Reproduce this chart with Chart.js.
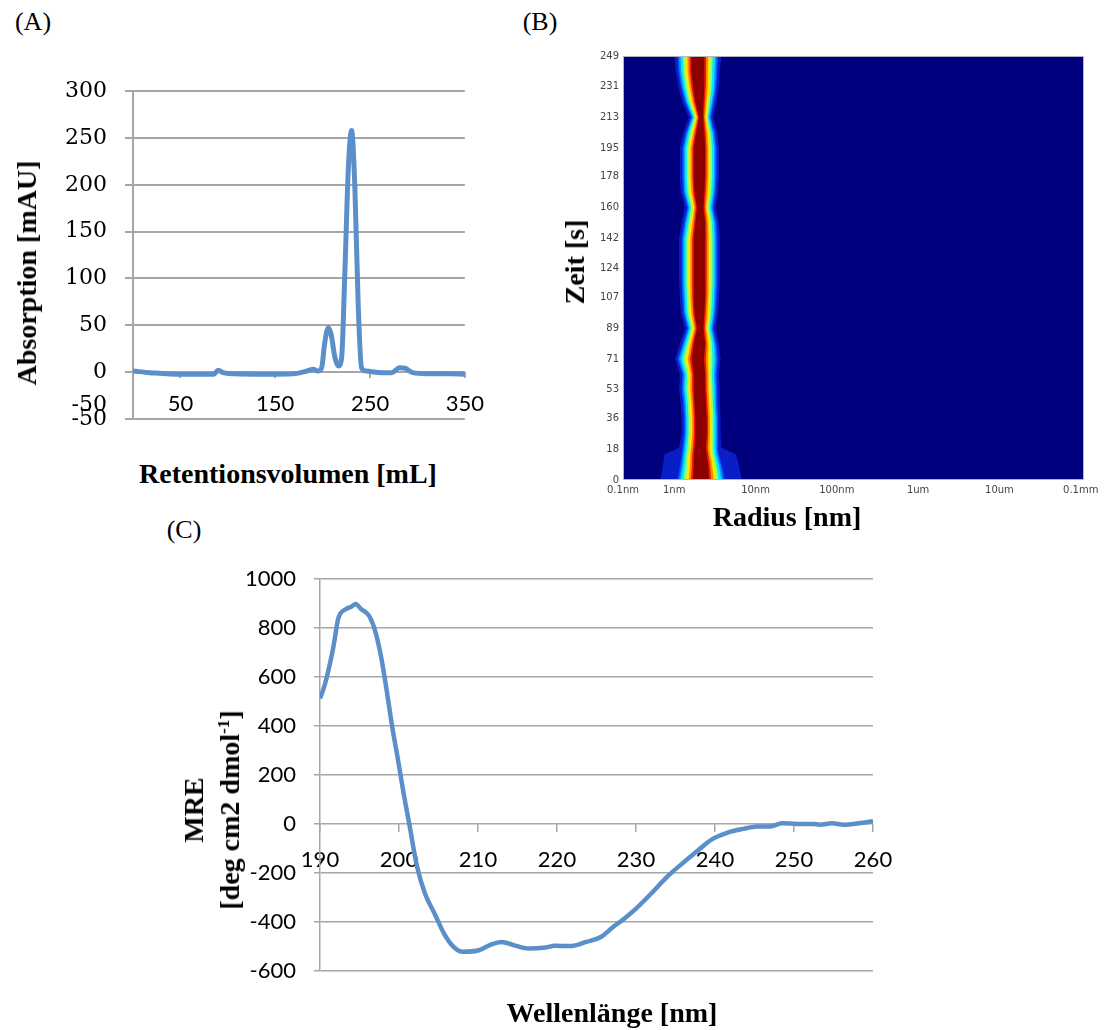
<!DOCTYPE html>
<html lang="de">
<head>
<meta charset="UTF-8">
<title>Abbildung (A)-(C)</title>
<script src="https://cdn.jsdelivr.net/npm/chart.js"></script>
<style>
  body { margin: 0; background: #fff; }
  #bild { position: relative; width: 1104px; height: 1030px; overflow: hidden; }
  canvas { position: absolute; }
  .txt { position: absolute; transform: translate(-50%, -50%); white-space: nowrap;
         font-family: 'Liberation Serif', 'Times New Roman', serif; color: #000; }
  .titel { font-weight: bold; font-size: 28px; }
  .dreh { transform: translate(-50%, -50%) rotate(-90deg); text-align: center; }
  .panel { font-size: 26px; }
  sup { font-size: 17px; line-height: 0; }
</style>
</head>
<body>
<div id="bild">
  <canvas id="chartA" width="457" height="390" style="left:40px; top:60px"></canvas>
  <canvas id="chartB" width="524" height="470" style="left:580px; top:40px"></canvas>
  <canvas id="chartC" width="720" height="454" style="left:200px; top:548px"></canvas>

  <div class="txt panel" style="left:33px; top:22px">(A)</div>
  <div class="txt panel" style="left:540px; top:22px">(B)</div>
  <div class="txt panel" style="left:184px; top:530px">(C)</div>

  <div class="txt titel dreh" style="left:27px; top:273px">Absorption [mAU]</div>
  <div class="txt titel" style="left:288px; top:474px">Retentionsvolumen [mL]</div>
  <div class="txt titel dreh" style="left:575px; top:262px">Zeit [s]</div>
  <div class="txt titel" style="left:787px; top:517px">Radius [nm]</div>
  <div class="txt titel dreh" style="left:212px; top:810px; line-height:36px">MRE<br>[deg cm2 dmol<sup>-1</sup>]</div>
  <div class="txt titel" style="left:612px; top:1013px">Wellenlänge [nm]</div>
</div>

<script>
// (A) Chromatogramm
const volumen = [0, 18, 50, 85, 90, 95, 106, 141, 169, 181, 190, 195, 199, 202, 206, 209, 213, 216.5, 220, 223.5,
                 227, 230.5, 234, 237.5, 241, 246, 264, 273, 281, 287, 295, 310, 334, 350];
const absorption = [1, -0.7, -2.5, -2.5, 2, -0.7, -2, -2.5, -2, 0.4, 3, 1, 4.6, 29.6, 47.4, 40, 15.3, 6.4, 15, 108,
                    215, 258, 197, 72, 4.6, 1, -0.7, -0.7, 4.6, 4, -0.7, -1.8, -1.8, -2.5];
const volumenTicks = [50, 150, 250, 350];

// (B) DLS-Verlauf: Zeit, Lage des Maximums (log10 r/nm) und Halbbreiten (Dekaden)
const zeit    = [0, 8, 15, 19, 27, 36, 45, 53, 62, 71, 80, 89, 98, 107, 116, 124, 133, 142, 151, 160,
                 169, 178, 186, 195, 204, 213, 222, 231, 240, 249];
const zentrum = [0.33, 0.33, 0.32, 0.32, 0.33, 0.33, 0.32, 0.31, 0.31, 0.29, 0.31, 0.32, 0.31, 0.31, 0.31,
                 0.31, 0.31, 0.31, 0.32, 0.32, 0.31, 0.31, 0.31, 0.31, 0.32, 0.33, 0.31, 0.30, 0.29, 0.29];
const kern    = [0.10, 0.09, 0.08, 0.07, 0.07, 0.07, 0.07, 0.07, 0.07, 0.075, 0.07, 0.04, 0.06, 0.07, 0.07,
                 0.07, 0.07, 0.07, 0.06, 0.04, 0.06, 0.07, 0.07, 0.07, 0.05, 0.025, 0.05, 0.07, 0.08, 0.08];
const rand    = [0.29, 0.26, 0.23, 0.22, 0.21, 0.21, 0.21, 0.22, 0.21, 0.25, 0.21, 0.16, 0.20, 0.21, 0.22,
                 0.22, 0.22, 0.22, 0.20, 0.16, 0.20, 0.21, 0.21, 0.21, 0.18, 0.12, 0.18, 0.22, 0.24, 0.25];
const halo    = [0.50, 0.47, 0.44, 0.26, 0.24, 0.24, 0.24, 0.25, 0.24, 0.28, 0.24, 0.19, 0.23, 0.24, 0.25,
                 0.25, 0.25, 0.25, 0.23, 0.19, 0.23, 0.24, 0.24, 0.24, 0.21, 0.15, 0.21, 0.25, 0.27, 0.29];
const zeitTicks = [0, 18, 36, 53, 71, 89, 107, 124, 142, 160, 178, 195, 213, 231, 249];
const radiusTickWerte = [-1, 0, 1, 2, 3, 4, 5];
const radiusTickText = ['0.1nm', '1nm', '10nm', '100nm', '1um', '10um', '0.1mm'];

// (C) CD-Spektrum
const wellenlaenge = [190, 190.6, 191.4, 191.8, 192.3, 193.3, 194.0, 194.5, 195.2, 196.2, 196.9, 197.7, 198.4,
                      199.1, 199.9, 200.6, 201.3, 202.3, 203.3, 204.5, 205.7, 206.9, 208.1, 210.1, 211.5, 213.0,
                      214.5, 216.4, 218.3, 219.8, 221.7, 223.7, 225.6, 227.1, 228.5, 230.0, 231.9, 233.9, 235.8,
                      237.8, 239.7, 241.7, 243.6, 245.3, 247.0, 248.5, 250.4, 252.4, 253.3, 254.8, 256.3, 258.2, 260];
const mre = [513, 568, 676, 743, 838, 878, 888, 899, 878, 851, 797, 689, 554, 405, 257, 122, 0, -176, -285,
             -366, -448, -502, -522, -516, -495, -482, -495, -509, -506, -498, -499, -482, -461, -421, -387,
             -346, -285, -217, -163, -109, -61, -34, -20, -10, -10, 3, 0, 0, -3, 3, -3, 3, 11];

const BLAU = '#5b8fc9';
const GRAU = '#a6a6a6';
const JET_STUFEN = [0, 0.1, 0.22, 0.4, 0.55, 0.72, 0.87, 1.0];
const JET_FARBEN = ['#0050ff', '#0098ff', '#10e8f0', '#90ff70', '#ffe800', '#ff8a00', '#f01800', '#8c0000'];

const basis = {
    animation: false,
    responsive: false,
    events: [],
    plugins: { legend: { display: false }, tooltip: { enabled: false } }
};

function punkte(xs, ys) {
    return xs.map((v, i) => ({ x: v, y: ys[i] }));
}

// zweites "-50" wie im Original (Excel-Beschriftung überlappt)
const doppelLabel = {
    id: 'doppelLabel',
    afterDraw(chart) {
        const { ctx, scales: { y } } = chart;
        const yMitte = (y.getPixelForValue(0) + y.getPixelForValue(-50)) / 2 + 10;
        ctx.save();
        ctx.font = '22px "DejaVu Serif"';
        ctx.fillStyle = '#000';
        ctx.textAlign = 'right';
        ctx.textBaseline = 'middle';
        ctx.fillText('-50', y.right - 26, yMitte);
        ctx.restore();
    }
};

new Chart(document.getElementById('chartA'), {
    type: 'scatter',
    data: {
        datasets: [{
            data: punkte(volumen, absorption),
            showLine: true,
            borderColor: BLAU,
            borderWidth: 5,
            pointRadius: 0,
            cubicInterpolationMode: 'monotone'
        }]
    },
    options: {
        ...basis,
        layout: { padding: { top: 30, right: 20, bottom: 13, left: 0 } },
        scales: {
            x: {
                type: 'linear', min: 0, max: 350,
                position: { y: 0 },
                afterBuildTicks: s => { s.ticks = volumenTicks.map(v => ({ value: v })); },
                afterFit: s => { s.height = 0; },
                grid: { drawOnChartArea: false, tickLength: 6, color: GRAU, lineWidth: 2 },
                border: { display: false },
                ticks: { font: { family: 'Lato', size: 22 }, color: '#000', padding: 13, maxRotation: 0 }
            },
            y: {
                min: -50, max: 300,
                afterFit: s => { s.width = 93; },
                grid: { color: GRAU, lineWidth: 2, tickLength: 8 },
                border: { color: GRAU, width: 2 },
                ticks: { stepSize: 50, font: { family: 'DejaVu Serif', size: 22 }, color: '#000', padding: 18 }
            }
        }
    },
    plugins: [doppelLabel]
});

// Falschfarbenkarte aus den Bändern pro Zeitpunkt
const dlsKarte = {
    id: 'dlsKarte',
    beforeDatasetsDraw(chart) {
        const { ctx, chartArea: a, scales: { x, y } } = chart;
        ctx.save();
        ctx.beginPath();
        ctx.rect(a.left, a.top, a.width, a.height);
        ctx.clip();
        ctx.fillStyle = '#00007f';
        ctx.fillRect(a.left, a.top, a.width, a.height);
        const band = (hw, farbe) => {
            ctx.beginPath();
            zeit.forEach((t, i) => {
                const px = x.getPixelForValue(zentrum[i] - hw(i));
                const py = y.getPixelForValue(t);
                if (i === 0) ctx.moveTo(px, py); else ctx.lineTo(px, py);
            });
            for (let i = zeit.length - 1; i >= 0; i--) {
                ctx.lineTo(x.getPixelForValue(zentrum[i] + hw(i)), y.getPixelForValue(zeit[i]));
            }
            ctx.closePath();
            ctx.fillStyle = farbe;
            ctx.fill();
        };
        band(i => halo[i], '#0a1ec8');
        JET_STUFEN.forEach((f, k) => band(i => rand[i] + (kern[i] - rand[i]) * f, JET_FARBEN[k]));
        ctx.restore();
    },
    afterDraw(chart) {
        const { ctx, chartArea: a } = chart;
        ctx.save();
        ctx.strokeStyle = '#b4b4c0';
        ctx.lineWidth = 1;
        ctx.strokeRect(a.left + 0.5, a.top + 0.5, a.width - 1, a.height - 1);
        ctx.restore();
    }
};

new Chart(document.getElementById('chartB'), {
    type: 'scatter',
    data: {
        datasets: [{ data: punkte(zentrum, zeit), pointRadius: 0, showLine: false }]
    },
    options: {
        ...basis,
        layout: { padding: { top: 16, right: 20, bottom: 5, left: 0 } },
        scales: {
            x: {
                type: 'linear', min: -0.63, max: 5.04,
                afterBuildTicks: s => { s.ticks = radiusTickWerte.map(v => ({ value: Math.max(v, s.min) })); },
                afterFit: s => { s.height = 25; },
                grid: { display: false, drawTicks: false },
                border: { display: false },
                ticks: {
                    font: { family: 'DejaVu Sans', size: 10 }, color: '#444', padding: 4, maxRotation: 0,
                    callback: (v, i) => radiusTickText[i]
                }
            },
            y: {
                min: 0, max: 249,
                afterBuildTicks: s => { s.ticks = zeitTicks.map(v => ({ value: v })); },
                afterFit: s => { s.width = 43; },
                grid: { display: false, drawTicks: false },
                border: { display: false },
                ticks: { font: { family: 'DejaVu Sans', size: 10 }, color: '#444', padding: 4 }
            }
        }
    },
    plugins: [dlsKarte]
});

new Chart(document.getElementById('chartC'), {
    type: 'scatter',
    data: {
        datasets: [{
            data: punkte(wellenlaenge, mre),
            showLine: true,
            borderColor: BLAU,
            borderWidth: 4.5,
            pointRadius: 0,
            cubicInterpolationMode: 'monotone'
        }]
    },
    options: {
        ...basis,
        layout: { padding: { top: 31, right: 47, bottom: 28, left: 0 } },
        scales: {
            x: {
                type: 'linear', min: 190, max: 260,
                position: { y: 0 },
                afterFit: s => { s.height = 0; },
                grid: { drawOnChartArea: false, tickLength: 8, color: GRAU, lineWidth: 1.5 },
                border: { display: false },
                ticks: { stepSize: 10, font: { family: 'Lato', size: 22 }, color: '#000', padding: 15, maxRotation: 0 }
            },
            y: {
                min: -600, max: 1000,
                afterFit: s => { s.width = 120; },
                grid: { color: GRAU, lineWidth: 1.5, tickLength: 6 },
                border: { color: GRAU, width: 1.5 },
                ticks: {
                    stepSize: 200, font: { family: 'Lato', size: 22 }, color: '#000', padding: 18,
                    callback: v => String(v)
                }
            }
        }
    }
});
</script>
</body>
</html>
